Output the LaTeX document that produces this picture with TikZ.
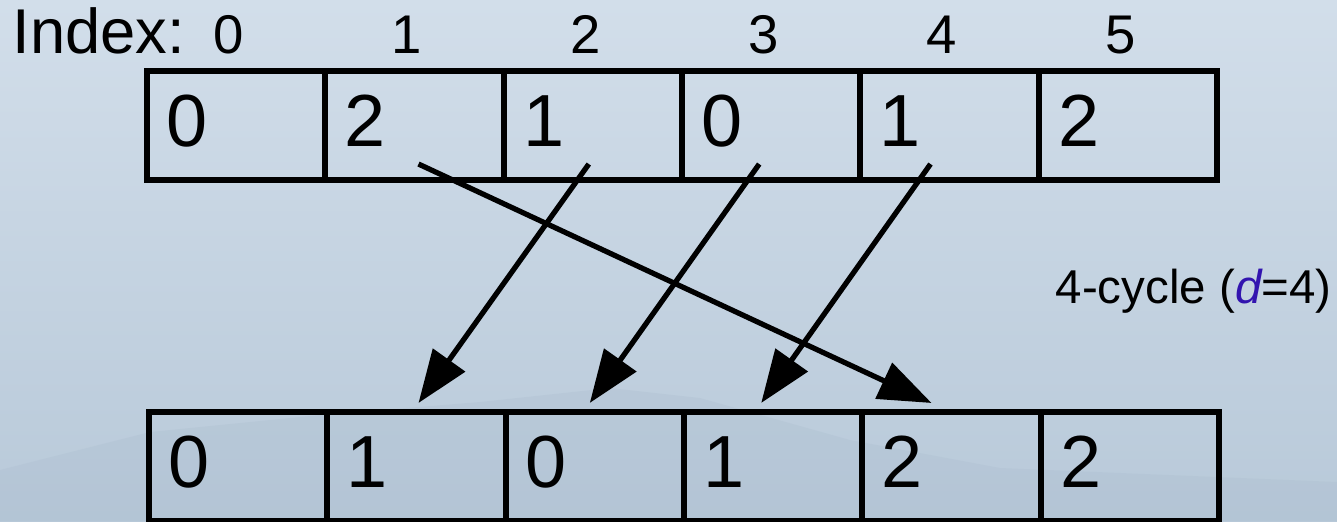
\documentclass[tikz,border=0pt]{standalone}
\usepackage{fontspec}
\setmainfont{Liberation Sans}
\usetikzlibrary{arrows.meta}
\definecolor{skytop}{RGB}{210,222,234}
\definecolor{skybot}{RGB}{184,201,217}
\definecolor{hill}{RGB}{168,186,204}
\definecolor{dvar}{RGB}{50,20,175}

\tikzset{
  cell/.style = {draw, line width = 1.7pt, outer sep = 0pt, inner xsep = 5.5pt,
                 text width = 39.7pt, align = left, minimum height = 1.09cm,
                 text height = 15pt, text depth = 3pt, font = \fontsize{21}{21}\selectfont},
  idx/.style  = {anchor = base, inner sep = 0pt, font = \fontsize{15.5}{16}\selectfont},
  move/.style = {line width = 1.5pt, -{Triangle[length = 15pt, width = 11pt]}}
}

\begin{document}
\begin{tikzpicture}[x = 0.01cm, y = 0.01cm]
    \useasboundingbox (0,0) rectangle (1337,-521);
    \fill[top color = skytop, bottom color = skybot] (0,0) rectangle (1337,-521);
    \fill[hill, opacity = 0.25] (0,-470) -- (150,-432) -- (320,-415) -- (480,-402)
        -- (610,-388) -- (700,-398) -- (850,-440) -- (1000,-468) -- (1337,-482)
        -- (1337,-521) -- (0,-521) -- cycle;

    \begin{scope}
        \node[anchor = base west, inner sep = 0pt, font = \fontsize{18}{18}\selectfont] (idxlabel) at (12,-53) {Index:};
        \node[idx] (i0) at (229,-53) {0};
        \node[idx] (i1) at (407,-53) {1};
        \node[idx] (i2) at (586,-53) {2};
        \node[idx] (i3) at (764,-53) {3};
        \node[idx] (i4) at (942,-53) {4};
        \node[idx] (i5) at (1121,-53) {5};

        \node[cell] (t0) at (236.2,-125.5) {0};
        \node[cell] (t1) at (414.5,-125.5) {2};
        \node[cell] (t2) at (592.8,-125.5) {1};
        \node[cell] (t3) at (771.2,-125.5) {0};
        \node[cell] (t4) at (949.5,-125.5) {1};
        \node[cell] (t5) at (1127.8,-125.5) {2};
    \end{scope}

    \begin{scope}[xshift = 0.02cm]
        \node[cell] (b0) at (236.2,-466.5) {0};
        \node[cell] (b1) at (414.5,-466.5) {1};
        \node[cell] (b2) at (592.8,-466.5) {0};
        \node[cell] (b3) at (771.2,-466.5) {1};
        \node[cell] (b4) at (949.5,-466.5) {2};
        \node[cell] (b5) at (1127.8,-466.5) {2};
    \end{scope}

    \draw[move] ([shift = {(4,16)}]t1.south) -- ([shift = {(-20,9)}]b4.north);
    \draw[move] ([shift = {(-4,16)}]t2.south) -- ([shift = {(2,9)}]b1.north);
    \draw[move] ([shift = {(-12,16)}]t3.south) -- ([shift = {(-5,9)}]b2.north);
    \draw[move] ([shift = {(-19,16)}]t4.south) -- ([shift = {(-12,9)}]b3.north);

    \node[anchor = base west, inner sep = 0pt, font = \fontsize{13.5}{14}\selectfont] (cyc) at (1055,-303)
        {4-cycle (\textit{\textcolor{dvar}{d}}=4)};
\end{tikzpicture}
\end{document}
